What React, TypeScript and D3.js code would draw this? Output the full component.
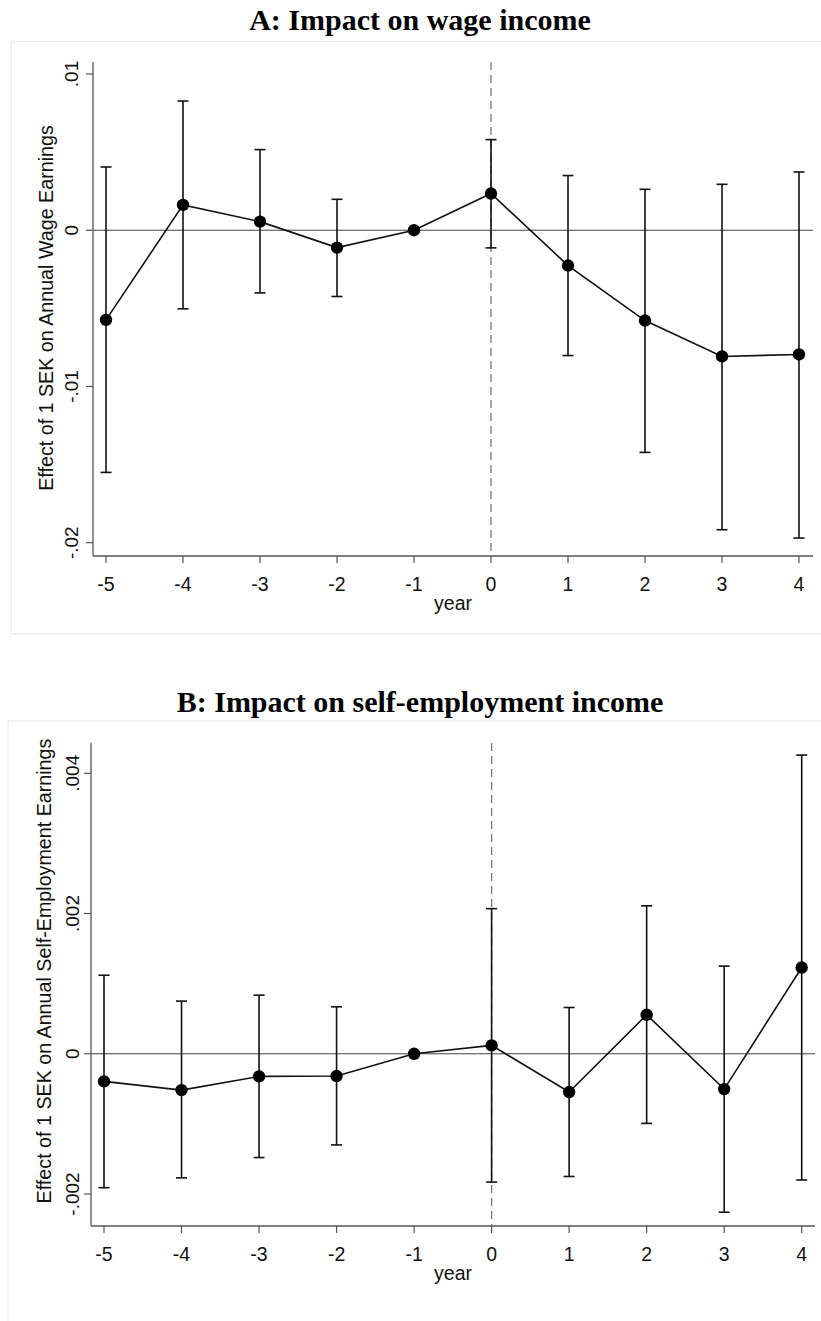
import React from "react";
import * as d3 from "d3";

const years = [-5, -4, -3, -2, -1, 0, 1, 2, 3, 4];

const wageCoef = [-0.00574, 0.00162, 0.00055, -0.00111, 0, 0.00235, -0.00226, -0.00578, -0.00808, -0.00795];
const wageLower = [-0.0155, -0.00503, -0.00401, -0.00424, 0, -0.00113, -0.00802, -0.01422, -0.01917, -0.0197];
const wageUpper = [0.00405, 0.00827, 0.00516, 0.00198, 0, 0.0058, 0.0035, 0.00262, 0.00294, 0.00373];

const selfCoef = [-0.000394, -0.000518, -0.000323, -0.000318, 0, 0.000119, -0.000546, 0.000556, -0.000504, 0.00123];
const selfLower = [-0.00191, -0.00177, -0.00148, -0.0013, 0, -0.00183, -0.00175, -0.000993, -0.00226, -0.0018];
const selfUpper = [0.00112, 0.000751, 0.000836, 0.00067, 0, 0.00207, 0.00066, 0.00211, 0.00125, 0.00426];

const wageYTicks = [0.01, 0, -0.01, -0.02];
const wageYTickLabels = [".01", "0", "-.01", "-.02"];
const selfYTicks = [0.004, 0.002, 0, -0.002];
const selfYTickLabels = [".004", ".002", "0", "-.002"];
const xTickLabels = ["-5", "-4", "-3", "-2", "-1", "0", "1", "2", "3", "4"];

const SANS = "'Liberation Sans', Arial, sans-serif";
const SERIF = "'Liberation Serif', 'Times New Roman', serif";

type PanelProps = {
  title: string;
  titleY: number;
  box: { x: number; y: number; w: number; h: number };
  axisX: number;
  axisTop: number;
  axisBottom: number;
  axisRight: number;
  xRange: [number, number];
  yDomain: [number, number];
  yRange: [number, number];
  coef: number[];
  lower: number[];
  upper: number[];
  yTicks: number[];
  yTickLabels: string[];
  yTitle: string;
  yTitleX: number;
  yTitleCenter: number;
  yLabelX: number;
};

function Panel(p: PanelProps) {
  const x = d3.scaleLinear().domain([-5, 4]).range(p.xRange);
  const y = d3.scaleLinear().domain(p.yDomain).range(p.yRange);
  const line = d3
    .line<number>()
    .x((_, i) => x(years[i]))
    .y((d) => y(d));
  const refYear = -1;
  const capW = 5.5;
  return (
    <g>
      <rect x={p.box.x} y={p.box.y} width={p.box.w} height={p.box.h} fill="#ffffff" stroke="#e4ecee" strokeWidth={1.2} />
      <text x={420} y={p.titleY} textAnchor="middle" fontFamily={SERIF} fontWeight="bold" fontSize={30} fill="#000">
        {p.title}
      </text>
      {/* zero line */}
      <line x1={p.axisX} x2={p.axisRight} y1={y(0)} y2={y(0)} stroke="#444" strokeWidth={1} />
      {/* dashed reference line at 0 */}
      <line x1={x(0)} x2={x(0)} y1={p.axisTop} y2={p.axisBottom} stroke="#777" strokeWidth={1.3} strokeDasharray="8,5" />
      {/* error bars */}
      {years.map((yr, i) =>
        yr === refYear ? null : (
          <g key={"eb" + i} stroke="#111" strokeWidth={1.6}>
            <line x1={x(yr)} x2={x(yr)} y1={y(p.lower[i])} y2={y(p.upper[i])} />
            <line x1={x(yr) - capW} x2={x(yr) + capW} y1={y(p.lower[i])} y2={y(p.lower[i])} />
            <line x1={x(yr) - capW} x2={x(yr) + capW} y1={y(p.upper[i])} y2={y(p.upper[i])} />
          </g>
        )
      )}
      <path d={line(p.coef) || ""} fill="none" stroke="#111" strokeWidth={1.6} />
      {years.map((yr, i) => (
        <circle key={"pt" + i} cx={x(yr)} cy={y(p.coef[i])} r={6.2} fill="#000" />
      ))}
      {/* axes */}
      <line x1={p.axisX} x2={p.axisX} y1={p.axisTop} y2={p.axisBottom} stroke="#555" strokeWidth={1.3} />
      <line x1={p.axisX} x2={p.axisRight} y1={p.axisBottom} y2={p.axisBottom} stroke="#555" strokeWidth={1.3} />
      {p.yTicks.map((t, i) => (
        <g key={"yt" + i}>
          <line x1={p.axisX - 7} x2={p.axisX} y1={y(t)} y2={y(t)} stroke="#555" strokeWidth={1.2} />
          <text
            transform={`translate(${p.yLabelX},${y(t)}) rotate(-90)`}
            textAnchor="middle"
            fontFamily={SANS}
            fontSize={19}
            fill="#111"
          >
            {p.yTickLabels[i]}
          </text>
        </g>
      ))}
      {years.map((yr, i) => (
        <g key={"xt" + i}>
          <line x1={x(yr)} x2={x(yr)} y1={p.axisBottom} y2={p.axisBottom + 7} stroke="#555" strokeWidth={1.2} />
          <text x={x(yr)} y={p.axisBottom + 35} textAnchor="middle" fontFamily={SANS} fontSize={19.5} fill="#111">
            {xTickLabels[i]}
          </text>
        </g>
      ))}
      <text x={(p.axisX + p.axisRight) / 2} y={p.axisBottom + 54} textAnchor="middle" fontFamily={SANS} fontSize={19.5} fill="#111">
        year
      </text>
      <text
        transform={`translate(${p.yTitleX},${p.yTitleCenter}) rotate(-90)`}
        textAnchor="middle"
        fontFamily={SANS}
        fontSize={19.7}
        fill="#111"
      >
        {p.yTitle}
      </text>
    </g>
  );
}

export default function App() {
  return (
    <svg
      width={821}
      height={1321}
      viewBox="0 0 821 1321"
      style={{ position: "absolute", left: 0, top: 0, background: "#fff" }}
    >
      <Panel
        title="A: Impact on wage income"
        titleY={29.5}
        box={{ x: 11, y: 41.5, w: 830, h: 592.5 }}
        axisX={93}
        axisTop={62}
        axisBottom={556}
        axisRight={813}
        xRange={[106, 799]}
        yDomain={[-0.02, 0.01]}
        yRange={[542.7, 74]}
        coef={wageCoef}
        lower={wageLower}
        upper={wageUpper}
        yTicks={wageYTicks}
        yTickLabels={wageYTickLabels}
        yTitle="Effect of 1 SEK on Annual Wage Earnings"
        yTitleX={53}
        yTitleCenter={308}
        yLabelX={78}
      />
      <Panel
        title="B: Impact on self-employment income"
        titleY={712}
        box={{ x: 8, y: 721, w: 830, h: 620 }}
        axisX={91}
        axisTop={743}
        axisBottom={1226}
        axisRight={815}
        xRange={[104, 801.7]}
        yDomain={[-0.002, 0.004]}
        yRange={[1194, 773.3]}
        coef={selfCoef}
        lower={selfLower}
        upper={selfUpper}
        yTicks={selfYTicks}
        yTickLabels={selfYTickLabels}
        yTitle="Effect of 1 SEK on Annual Self-Employment Earnings"
        yTitleX={51}
        yTitleCenter={971}
        yLabelX={79}
      />
    </svg>
  );
}
